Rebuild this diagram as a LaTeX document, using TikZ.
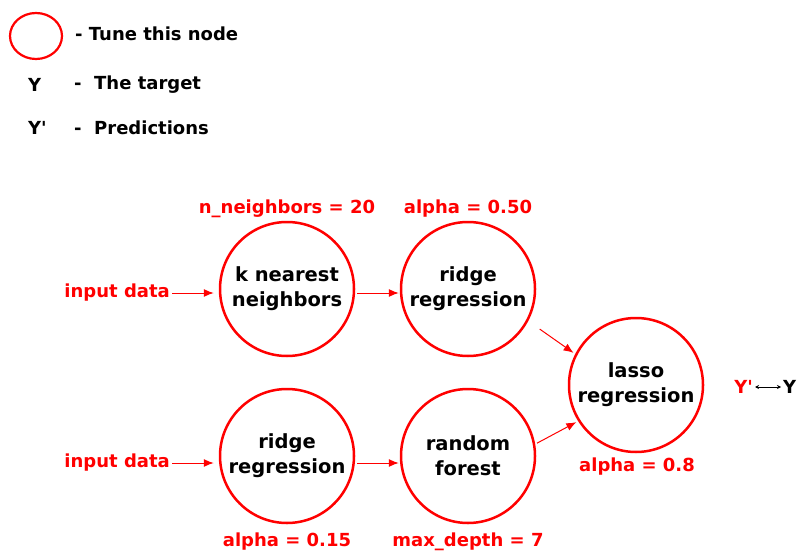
\documentclass[tikz,border=0pt]{standalone}
\usepackage{fontspec}
\setmainfont{DejaVu Sans}
\usetikzlibrary{arrows.meta,shapes.geometric}

\tikzset{
  model/.style={circle,draw=red,line width=2.5pt,minimum size=134pt,inner sep=0pt,
    align=center,font=\fontsize{19.5}{25}\selectfont\bfseries},
  hyper/.style={text=red,inner sep=2pt,font=\fontsize{18}{22}\selectfont\bfseries},
  legend/.style={anchor=west,inner sep=0pt,font=\fontsize{18}{22}\selectfont\bfseries},
  flow/.style={draw=red,line width=1pt,-{Latex[length=10pt,width=8pt]}},
}

\begin{document}
\begin{tikzpicture}[x=1pt,y=-1pt]
  \useasboundingbox (0,0) rectangle (802,556);

  % legend
  \node[ellipse,draw=red,line width=2.2pt,minimum width=52pt,minimum height=46pt] (tune) at (36,36) {};
  \node[legend] (tunetxt) at (75,34) {- Tune this node};
  \node[legend] (ysym) at (28,85) {Y};
  \node[legend] (ytxt) at (74,85) {-\ \ The target};
  \node[legend] (ypsym) at (28,128) {Y\textquotesingle};
  \node[legend] (yptxt) at (74,128) {-\ \ Predictions};

  % models
  \node[model] (knn) at (287,289) {k nearest\\neighbors};
  \node[model] (ridgeA) at (468,289) {ridge\\regression};
  \node[model] (ridgeB) at (287,456) {ridge\\regression};
  \node[model] (forest) at (468,456) {random\\forest};
  \node[model] (lasso) at (636,385) {lasso\\regression};

  % hyperparameters
  \node[hyper] (knnpar) at (287,209) {n\_neighbors = 20};
  \node[hyper] (ridgeApar) at (468,209) {alpha = 0.50};
  \node[hyper] (ridgeBpar) at (287,542) {alpha = 0.15};
  \node[hyper] (forestpar) at (468,542) {max\_depth = 7};
  \node[hyper] (lassopar) at (637,467) {alpha = 0.8};

  % inputs
  \node[hyper,anchor=east] (inA) at (172,293) {input data};
  \node[hyper,anchor=east] (inB) at (172,463) {input data};

  % output
  \node[hyper,anchor=east] (pred) at (755,387) {Y\textquotesingle};
  \node[legend,anchor=west,inner sep=2pt] (target) at (781,387) {Y};

  \draw[flow,shorten >=5pt] (inA) -- (inA-|knn.west);
  \draw[flow,shorten >=5pt] (inB) -- (inB-|ridgeB.west);
  \draw[flow,shorten <=2pt,shorten >=1pt] (knn.east|-inA) -- (ridgeA.west|-inA);
  \draw[flow,shorten <=2pt,shorten >=1pt] (ridgeB.east|-inB) -- (forest.west|-inB);
  \draw[flow,shorten <=14pt,shorten >=2pt] (ridgeA.-28) -- (lasso.153);
  \draw[flow,shorten <=2pt,shorten >=2pt] (forest.10) -- (lasso.-148);
  \draw[{Stealth[length=4pt,width=4pt]}-{Stealth[length=4pt,width=4pt]},line width=0.6pt]
    (pred.east) -- (target.west);
\end{tikzpicture}
\end{document}
